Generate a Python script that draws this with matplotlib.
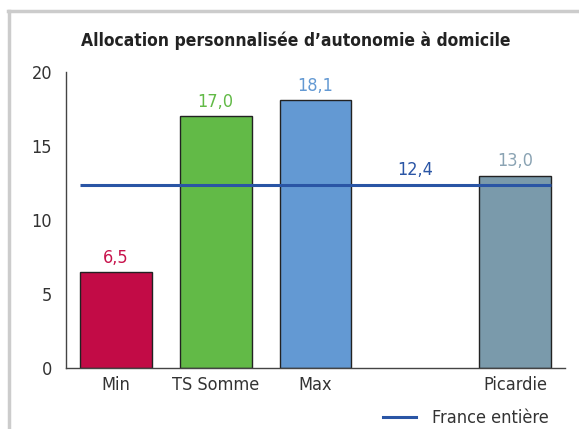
import matplotlib
matplotlib.use('Agg')
from matplotlib import pyplot as plt
from matplotlib.lines import Line2D

# Données : part des bénéficiaires de l'APA à domicile
categories = ['Min', 'TS Somme', 'Max', '', 'Picardie']
valeurs = [6.5, 17.0, 18.1, None, 13.0]
etiquettes = ['6,5', '17,0', '18,1', '', '13,0']
couleurs = ['#c20b46', '#62ba47', '#6399d3', None, '#7a9aab']
couleurs_texte = ['#c8134c', '#62ba47', '#6399d3', None, '#8aa3b3']
france = 12.4
france_label = '12,4'

plt.rcParams['font.family'] = ['DejaVu Sans']
plt.rcParams['font.stretch'] = 'condensed'

fig = plt.figure(figsize=(5.79, 4.29), dpi=100)
ax = fig.add_axes([0.114, 0.142, 0.862, 0.690])

largeur = 0.72
for i, v in enumerate(valeurs):
    if v is None:
        continue
    ax.bar(i, v, width=largeur, color=couleurs[i], edgecolor='#222222', linewidth=1.0, zorder=2)
    ax.text(i, v + 0.35, etiquettes[i], ha='center', va='bottom', fontsize=13, color=couleurs_texte[i])

# Moyenne nationale
ax.hlines(france, -largeur / 2, 4 + largeur / 2, color='#2a55a5', linewidth=2.2, zorder=3)
ax.text(3, france + 0.35, france_label, ha='center', va='bottom', fontsize=13, color='#2a55a5')

ax.set_xlim(-0.5, 4.5)
ax.set_ylim(0, 20)
ax.set_yticks([0, 5, 10, 15, 20])
ax.set_xticks(range(len(categories)))
ax.set_xticklabels(categories)
ax.tick_params(axis='both', length=0, labelsize=13, colors='#333333', pad=6)
ax.tick_params(axis='y', pad=10)
for cote in ['top', 'right']:
    ax.spines[cote].set_visible(False)
for cote in ['left', 'bottom']:
    ax.spines[cote].set_color('#444444')
    ax.spines[cote].set_linewidth(1.0)

fig.text(0.51, 0.905, 'Allocation personnalisée d\u2019autonomie à domicile',
         ha='center', va='center', fontsize=12.5, fontweight='bold', color='#222222')

# Cadre gris
fig.add_artist(Line2D([0.014, 1.0], [0.9755, 0.9755], color='#cccccc', linewidth=2.5, transform=fig.transFigure))
fig.add_artist(Line2D([0.0155, 0.0155], [0.0, 0.9755], color='#cccccc', linewidth=2.5, transform=fig.transFigure))

poignee = Line2D([], [], color='#2a55a5', linewidth=2.2)
fig.legend(handles=[poignee], labels=['France entière'], loc='center', bbox_to_anchor=(0.805, 0.026),
           frameon=False, fontsize=13, handlelength=1.8, handletextpad=0.9, labelcolor='#333333')

fig.savefig('out.png', dpi=100)
